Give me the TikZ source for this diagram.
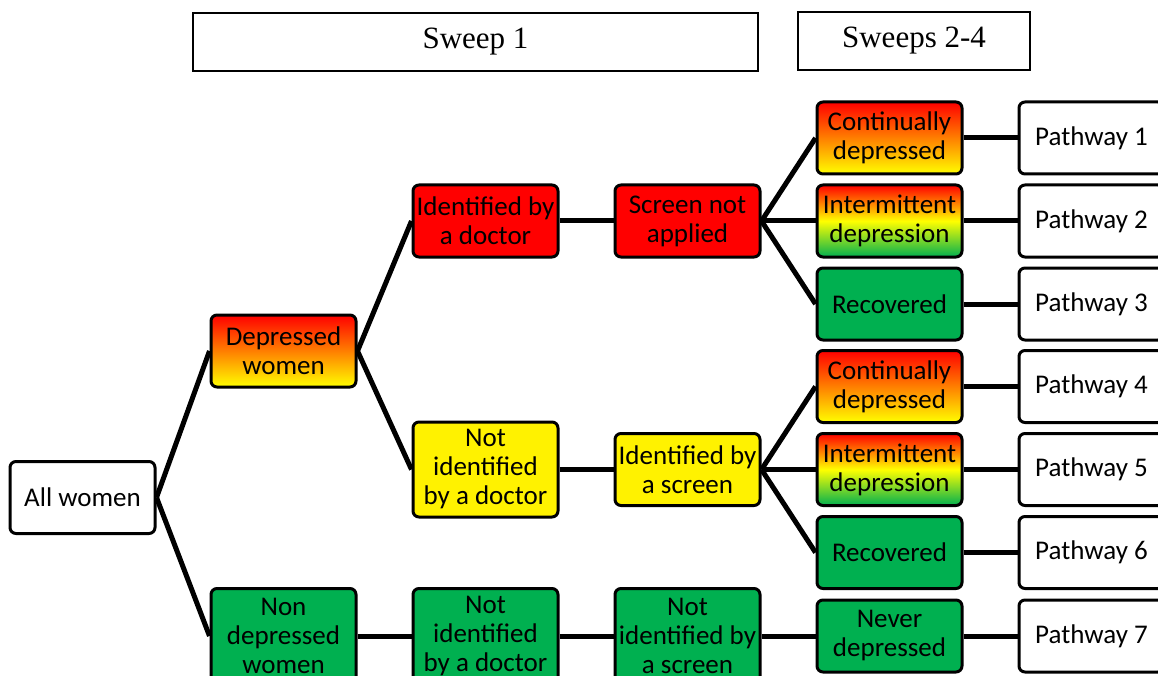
\documentclass[tikz,border=0pt]{standalone}
\usepackage{fontspec}
\setmainfont{Carlito}
\newfontfamily\headfont{Liberation Serif}
\definecolor{boxgreen}{RGB}{0,176,80}
\tikzstyle{stage}=[draw,line width=3pt,rounded corners=6pt,minimum width=145pt,minimum height=72pt,align=center,inner sep=0pt,font=\fontsize{27}{29}\selectfont]
\tikzstyle{stage_tall}=[stage,minimum height=95pt]
\tikzstyle{redbox}=[fill=red]
\tikzstyle{yellowbox}=[fill=yellow]
\tikzstyle{greenbox}=[fill=boxgreen]
\tikzstyle{worsebox}=[top color=red,bottom color=yellow]
\tikzstyle{mixedbox}=[top color=red,bottom color=boxgreen,middle color=yellow]
\tikzstyle{sweep}=[draw,line width=2pt,minimum height=58pt,font=\headfont\fontsize{31}{34}\selectfont]
\tikzstyle{link}=[line width=5pt]

\begin{document}
\begin{tikzpicture}[x=1pt,y=-1pt]  % pixel grid, y down
\useasboundingbox (0,0) rectangle (1158,676);
\clip (0,0) rectangle (1158,676);

\node[sweep,minimum width=565pt] (sweep1) at (475.5,42) {Sweep 1};
\node[sweep,minimum width=232pt] (sweep24) at (914,41) {Sweeps 2-4};

\node[stage,fill=white] (all) at (82.5,497.5) {All women};

\node[stage,worsebox] (dep) at (283.5,351) {Depressed\\women};
\node[stage_tall,greenbox] (nondep) at (283.5,636) {Non\\depressed\\women};

\node[stage,redbox] (docyes) at (485.5,221) {Identified by\\a doctor};
\node[stage_tall,yellowbox] (docno) at (485.5,469.5) {Not\\identified\\by a doctor};
\node[stage_tall,greenbox] (docnone) at (485.5,636) {Not\\identified\\by a doctor};

\node[stage,redbox] (noscreen) at (687.5,221) {Screen not\\applied};
\node[stage,yellowbox] (screenyes) at (687.5,469.5) {Identified by\\a screen};
\node[stage_tall,greenbox] (screenno) at (687.5,636) {Not\\identified by\\a screen};

\node[stage,worsebox] (cont1) at (889.5,138) {Continually\\depressed};
\node[stage,mixedbox] (inter1) at (889.5,221) {Intermittent\\depression};
\node[stage,greenbox] (rec1) at (889.5,304) {Recovered};
\node[stage,worsebox] (cont2) at (889.5,386.5) {Continually\\depressed};
\node[stage,mixedbox] (inter2) at (889.5,469.5) {Intermittent\\depression};
\node[stage,greenbox] (rec2) at (889.5,552.5) {Recovered};
\node[stage,greenbox] (never) at (889.5,636) {Never\\depressed};

\foreach \y [count=\i] in {138,221,304,386.5,469.5,552.5,636}
  \node[stage,fill=white] (path\i) at (1091.5,\y) {Pathway \i};

\draw[link] (all.east) -- (dep.west);
\draw[link] (all.east) -- (nondep.west);
\draw[link] (dep.east) -- (docyes.west);
\draw[link] (dep.east) -- (docno.west);
\draw[link] (nondep.east) -- (docnone.west);
\draw[link] (docyes.east) -- (noscreen.west);
\draw[link] (docno.east) -- (screenyes.west);
\draw[link] (docnone.east) -- (screenno.west);
\draw[link] (noscreen.east) -- (cont1.west);
\draw[link] (noscreen.east) -- (inter1.west);
\draw[link] (noscreen.east) -- (rec1.west);
\draw[link] (screenyes.east) -- (cont2.west);
\draw[link] (screenyes.east) -- (inter2.west);
\draw[link] (screenyes.east) -- (rec2.west);
\draw[link] (screenno.east) -- (never.west);
\foreach \n [count=\i] in {cont1,inter1,rec1,cont2,inter2,rec2,never}
  \draw[link] (\n.east) -- (path\i.west);
\end{tikzpicture}
\end{document}
